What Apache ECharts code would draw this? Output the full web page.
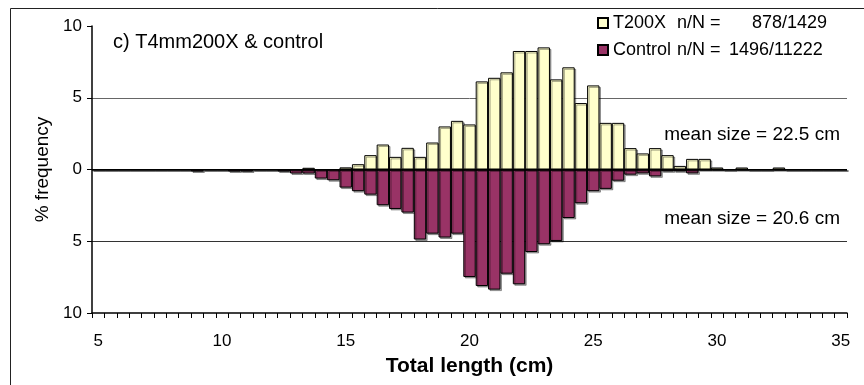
<!DOCTYPE html>
<html>
<head>
<meta charset="utf-8">
<script src="https://cdn.jsdelivr.net/npm/echarts@6/dist/echarts.min.js"></script>
<style>
    html, body { margin: 0; padding: 0; background: #fff; }
    #chart { width: 864px; height: 385px; }
</style>
</head>
<body>
<div id="chart"></div>
<script>
// total length classes (cm), 0.5 cm bins
var lengths = ['5','5.5','6','6.5','7','7.5','8','8.5','9','9.5',
    '10','10.5','11','11.5','12','12.5','13','13.5','14','14.5',
    '15','15.5','16','16.5','17','17.5','18','18.5','19','19.5',
    '20','20.5','21','21.5','22','22.5','23','23.5','24','24.5',
    '25','25.5','26','26.5','27','27.5','28','28.5','29','29.5',
    '30','30.5','31','31.5','32','32.5','33','33.5','34','34.5',
    '35'];

// % frequency, T200X (drawn upward)
var t200x = [0,0,0,0,0,0,0,0,0,0,
    0,0,0,0,0,0,0,0.12,0,0,
    0.15,0.37,1.0,1.74,0.88,1.51,0.88,1.88,3.0,3.39,
    3.14,6.14,6.39,6.77,8.26,8.26,8.51,6.28,7.12,4.63,
    5.86,3.25,3.25,1.49,1.12,1.49,1.0,0.25,0.74,0.74,
    0.14,0,0.14,0,0,0.14,0,0,0,0,
    0];

// % frequency, control (drawn downward)
var control = [0,0,0,0,0,0,0,0,-0.14,0,
    0,-0.14,-0.14,0,0,-0.14,-0.28,-0.28,-0.63,-0.75,
    -1.26,-1.51,-1.75,-2.49,-2.75,-3.0,-4.88,-4.47,-4.74,-4.47,
    -7.49,-8.12,-8.37,-7.26,-8.0,-5.75,-5.21,-4.98,-3.38,-2.35,
    -1.51,-1.35,-0.78,-0.36,-0.27,-0.48,-0.13,-0.13,-0.27,0,
    0,0,0,0,0,0,0,0,0,0,
    0];

var legendText = {
    'T200X': '{a|T200X}{b|n/N =}{c|878/1429}',
    'Control': '{a|Control}{d|n/N =}{c|1496/11222}'
};

var font = 'Liberation Sans, Arial, sans-serif';

var chart = echarts.init(document.getElementById('chart'));

chart.setOption({
    animation: false,
    textStyle: { fontFamily: font, color: '#000' },
    title: {
        text: 'c) T4mm200X & control',
        left: 113,
        top: 32,
        padding: 0,
        textStyle: { fontSize: 20, fontWeight: 'normal', color: '#000', fontFamily: font }
    },
    legend: {
        orient: 'vertical',
        left: 597,
        top: 14,
        padding: 0,
        itemWidth: 10,
        itemHeight: 10,
        itemGap: 9,
        icon: 'rect',
        data: ['T200X', 'Control'],
        formatter: function (name) { return legendText[name]; },
        textStyle: {
            fontSize: 18,
            color: '#000',
            fontFamily: font,
            rich: {
                a: { width: 64, fontSize: 18, fontFamily: font },
                b: { width: 75, fontSize: 18, fontFamily: font },
                d: { width: 52, fontSize: 18, fontFamily: font },
                c: { fontSize: 18, fontFamily: font }
            }
        }
    },
    grid: { left: 92, right: 17, top: 26, bottom: 72 },
    xAxis: {
        type: 'category',
        data: lengths,
        boundaryGap: true,
        name: 'Total length (cm)',
        nameLocation: 'middle',
        nameGap: 43,
        nameTextStyle: { fontSize: 21, fontWeight: 'bold', color: '#000', fontFamily: font },
        axisLine: { onZero: false, lineStyle: { color: '#000', width: 1.5 } },
        axisTick: { show: true, interval: 0, length: 5, lineStyle: { color: '#000' } },
        axisLabel: { interval: 9, margin: 20, fontSize: 17, color: '#000', fontFamily: font },
        splitLine: { show: false }
    },
    yAxis: {
        type: 'value',
        min: -10,
        max: 10,
        interval: 5,
        name: '% frequency',
        nameLocation: 'middle',
        nameGap: 40,
        nameRotate: 90,
        nameTextStyle: { fontSize: 19, color: '#000', fontFamily: font },
        axisLine: { show: true, lineStyle: { color: '#000', width: 1.5 } },
        axisTick: { show: true, length: 5, lineStyle: { color: '#000' } },
        axisLabel: {
            margin: 10,
            fontSize: 17,
            color: '#000',
            fontFamily: font,
            formatter: function (v) { return Math.abs(v); }
        },
        splitLine: {
            show: true,
            lineStyle: { color: ['transparent', '#333', '#000', '#666', 'transparent'], width: 1 }
        }
    },
    series: [
        {
            name: 'T200X',
            type: 'bar',
            data: t200x,
            barGap: '-100%',
            barCategoryGap: '0%',
            itemStyle: {
                color: '#FFFFCC',
                borderColor: '#000',
                borderWidth: 1,
                shadowColor: 'rgba(0,0,0,0.35)',
                shadowOffsetX: 1.5,
                shadowOffsetY: 1.5
            }
        },
        {
            name: 'Control',
            type: 'bar',
            data: control,
            barGap: '-100%',
            barCategoryGap: '0%',
            itemStyle: {
                color: '#993366',
                borderColor: '#000',
                borderWidth: 1,
                shadowColor: 'rgba(0,0,0,0.35)',
                shadowOffsetX: 1.5,
                shadowOffsetY: 1.5
            },
            markLine: {
                silent: true,
                symbol: 'none',
                label: { show: false },
                lineStyle: { color: '#000', width: 1.5, type: 'solid' },
                data: [{ yAxis: 0 }]
            }
        }
    ],
    graphic: [
        {
            type: 'rect',
            shape: { x: 10.5, y: 8.5, width: 900, height: 400 },
            style: { fill: 'none', stroke: '#222', lineWidth: 1 },
            silent: true
        },
        {
            type: 'text',
            x: 840,
            y: 135,
            style: {
                text: 'mean size = 22.5 cm',
                align: 'right',
                verticalAlign: 'middle',
                fontSize: 19,
                fontFamily: font,
                fill: '#000'
            }
        },
        {
            type: 'text',
            x: 840,
            y: 219,
            style: {
                text: 'mean size = 20.6 cm',
                align: 'right',
                verticalAlign: 'middle',
                fontSize: 19,
                fontFamily: font,
                fill: '#000'
            }
        }
    ]
});
</script>
</body>
</html>
